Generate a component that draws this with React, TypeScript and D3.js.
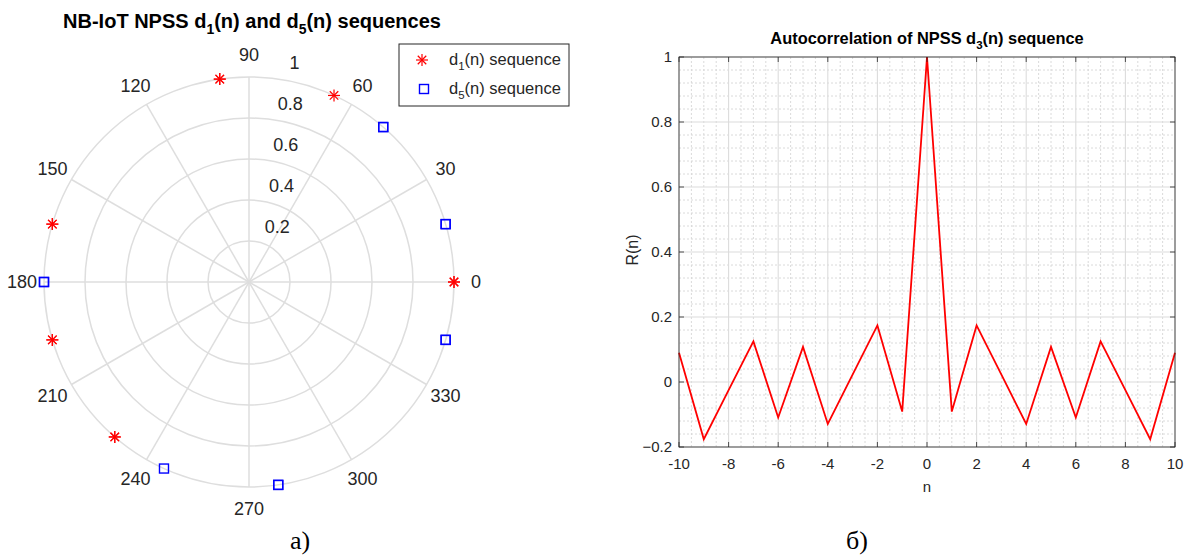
import React from "react";
import * as d3 from "d3";

// Polar chart data (phase angles in degrees, amplitude 1)
const d1Angles = [0, 196.4, 229.1, 98.2, 163.6, 65.5, 163.6, 98.2, 229.1, 196.4, 0];
const d5Angles = [180, 16.4, 49.1, 278.2, 343.6, 245.5, 343.6, 278.2, 49.1, 16.4, 180];
const d1Amp = [1, 1, 1, 1, 1, 1, 1, 1, 1, 1, 1];
const d5Amp = [1, 1, 1, 1, 1, 1, 1, 1, 1, 1, 1];
const rTicks = [0.2, 0.4, 0.6, 0.8, 1];
const thetaTicks = [0, 30, 60, 90, 120, 150, 180, 210, 240, 270, 300, 330];

// Autocorrelation data
const lagN = [-10, -9, -8, -7, -6, -5, -4, -3, -2, -1, 0, 1, 2, 3, 4, 5, 6, 7, 8, 9, 10];
const corrR = [0.09, -0.176, -0.025, 0.125, -0.109, 0.108, -0.129, 0.0225, 0.174, -0.091, 1,
  -0.091, 0.174, 0.0225, -0.129, 0.108, -0.109, 0.125, -0.025, -0.176, 0.09];
const xTicks = [-10, -8, -6, -4, -2, 0, 2, 4, 6, 8, 10];
const yTicks = [-0.2, 0, 0.2, 0.4, 0.6, 0.8, 1];

const SANS = "'Liberation Sans', Arial, Helvetica, sans-serif";
const TXT = "#262626";

function Star({ x, y, s, color }: { x: number; y: number; s: number; color: string }) {
  const d = s * 0.7071;
  return (
    <g stroke={color} strokeWidth={1.2}>
      <line x1={x - s} y1={y} x2={x + s} y2={y} />
      <line x1={x} y1={y - s} x2={x} y2={y + s} />
      <line x1={x - d} y1={y - d} x2={x + d} y2={y + d} />
      <line x1={x - d} y1={y + d} x2={x + d} y2={y - d} />
    </g>
  );
}

function Square({ x, y, s, color }: { x: number; y: number; s: number; color: string }) {
  return <rect x={x - s} y={y - s} width={2 * s} height={2 * s} fill="none" stroke={color} strokeWidth={1.4} />;
}

function PolarChart() {
  const cx = 249, cy = 282, R = 205;
  const r = d3.scaleLinear().domain([0, 1]).range([0, R]);
  const pt = (deg: number, rv: number) => {
    const a = (deg * Math.PI) / 180;
    return [cx + r(rv) * Math.cos(a), cy - r(rv) * Math.sin(a)];
  };
  const gridC = "#dedede";
  const labA = (84 * Math.PI) / 180;
  return (
    <g>
      <text x={252} y={28} textAnchor="middle" fontFamily={SANS} fontWeight="bold" fontSize={20} fill="#000">
        NB-IoT NPSS d<tspan dy={6} fontSize={14}>1</tspan><tspan dy={-6}>(n) and d</tspan>
        <tspan dy={6} fontSize={14}>5</tspan><tspan dy={-6}>(n) sequences</tspan>
      </text>
      {thetaTicks.map((t) => {
        const [x2, y2] = pt(t, 1);
        return <line key={"sp" + t} x1={cx} y1={cy} x2={x2} y2={y2} stroke={gridC} strokeWidth={1.5} />;
      })}
      {rTicks.map((t) => (
        <circle key={"c" + t} cx={cx} cy={cy} r={r(t)} fill="none" stroke={gridC} strokeWidth={1.5} />
      ))}
      {thetaTicks.map((t) => {
        const a = (t * Math.PI) / 180;
        const x = cx + (R + 22) * Math.cos(a);
        const y = cy - (R + 22) * Math.sin(a);
        return (
          <text key={"tl" + t} x={x} y={y} dy="0.35em" textAnchor="middle" fontFamily={SANS} fontSize={18} fill={TXT}>
            {t}
          </text>
        );
      })}
      {rTicks.map((t) => {
        const x = cx + r(t) * Math.cos(labA) + 24;
        const y = cy - r(t) * Math.sin(labA) - 15;
        return (
          <text key={"rl" + t} x={x} y={y} dy="0.35em" textAnchor="middle" fontFamily={SANS} fontSize={18} fill={TXT}>
            {t === 1 ? "1" : t.toFixed(1)}
          </text>
        );
      })}
      {d1Angles.map((a, i) => {
        const [x, y] = pt(a, d1Amp[i]);
        return <Star key={"s" + i} x={x} y={y} s={6} color="#ff0000" />;
      })}
      {d5Angles.map((a, i) => {
        const [x, y] = pt(a, d5Amp[i]);
        return <Square key={"q" + i} x={x} y={y} s={4.5} color="#0000ff" />;
      })}
      <g>
        <rect x={399} y={44} width={170} height={62} fill="#fff" stroke="#262626" strokeWidth={1} />
        <Star x={422} y={60} s={6} color="#ff0000" />
        <text x={449} y={59} dy="0.35em" fontFamily={SANS} fontSize={16.5} fill={TXT}>
          d<tspan dy={5} fontSize={11.5}>1</tspan><tspan dy={-5}>(n) sequence</tspan>
        </text>
        <Square x={424} y={89} s={4.5} color="#0000ff" />
        <text x={449} y={88} dy="0.35em" fontFamily={SANS} fontSize={16.5} fill={TXT}>
          d<tspan dy={5} fontSize={11.5}>5</tspan><tspan dy={-5}>(n) sequence</tspan>
        </text>
      </g>
    </g>
  );
}

function CorrChart() {
  const x0 = 679, x1 = 1175, y0 = 57, y1 = 447;
  const x = d3.scaleLinear().domain([-10, 10]).range([x0, x1]);
  const y = d3.scaleLinear().domain([-0.2, 1]).range([y1, y0]);
  const minorX = d3.range(-10, 10.001, 0.5).filter((v) => Math.abs(v / 2 - Math.round(v / 2)) > 1e-6);
  const minorY = d3.range(-0.2, 1.0001, 0.04).filter((v) => Math.abs(v / 0.2 - Math.round(v / 0.2)) > 1e-6);
  const line = d3
    .line<number>()
    .x((_, i) => x(lagN[i]))
    .y((d) => y(d));
  return (
    <g>
      <text x={927} y={44} textAnchor="middle" fontFamily={SANS} fontWeight="bold" fontSize={16.4} fill="#000">
        Autocorrelation of NPSS d<tspan dy={5} fontSize={11.5}>3</tspan><tspan dy={-5}>(n) sequence</tspan>
      </text>
      <rect x={x0} y={y0} width={x1 - x0} height={y1 - y0} fill="#fff" />
      {minorX.map((v) => (
        <line key={"mx" + v} x1={x(v)} x2={x(v)} y1={y0} y2={y1} stroke="#d6d6d6" strokeWidth={0.9} strokeDasharray="2,2" />
      ))}
      {minorY.map((v) => (
        <line key={"my" + v} x1={x0} x2={x1} y1={y(v)} y2={y(v)} stroke="#d6d6d6" strokeWidth={0.9} strokeDasharray="2,2" />
      ))}
      {xTicks.map((v) => (
        <line key={"gx" + v} x1={x(v)} x2={x(v)} y1={y0} y2={y1} stroke="#dcdcdc" strokeWidth={1.1} />
      ))}
      {yTicks.map((v) => (
        <line key={"gy" + v} x1={x0} x2={x1} y1={y(v)} y2={y(v)} stroke="#dcdcdc" strokeWidth={1.1} />
      ))}
      <path d={line(corrR) || ""} fill="none" stroke="#ff0000" strokeWidth={1.8} />
      <rect x={x0} y={y0} width={x1 - x0} height={y1 - y0} fill="none" stroke="#262626" strokeWidth={0.8} />
      {xTicks.map((v) => (
        <g key={"tx" + v}>
          <line x1={x(v)} x2={x(v)} y1={y1} y2={y1 - 5} stroke="#262626" strokeWidth={0.8} />
          <line x1={x(v)} x2={x(v)} y1={y0} y2={y0 + 5} stroke="#262626" strokeWidth={0.8} />
          <text x={x(v)} y={464} dy="0.35em" textAnchor="middle" fontFamily={SANS} fontSize={15} fill={TXT}>
            {v}
          </text>
        </g>
      ))}
      {yTicks.map((v) => (
        <g key={"ty" + v}>
          <line x1={x0} x2={x0 + 5} y1={y(v)} y2={y(v)} stroke="#262626" strokeWidth={0.8} />
          <line x1={x1} x2={x1 - 5} y1={y(v)} y2={y(v)} stroke="#262626" strokeWidth={0.8} />
          <text x={672} y={y(v)} dy="0.35em" textAnchor="end" fontFamily={SANS} fontSize={15} fill={TXT}>
            {Math.abs(v) < 1e-9 ? "0" : v === 1 ? "1" : d3.format(".1f")(v)}
          </text>
        </g>
      ))}
      <text x={927} y={487} dy="0.35em" textAnchor="middle" fontFamily={SANS} fontSize={15} fill={TXT}>
        n
      </text>
      <text transform={`translate(632,250) rotate(-90)`} textAnchor="middle" dy="0.35em" fontFamily={SANS} fontSize={16} fill={TXT}>
        R(n)
      </text>
    </g>
  );
}

export default function App() {
  return (
    <svg width={1188} height={557} style={{ position: "absolute", left: 0, top: 0, background: "#fff" }}>
      <rect width={1188} height={557} fill="#fff" />
      <PolarChart />
      <CorrChart />
      <text x={300} y={549} textAnchor="middle" fontFamily="'Liberation Serif', 'Times New Roman', serif" fontSize={26} fill="#000">
        а)
      </text>
      <text x={857} y={549} textAnchor="middle" fontFamily="'Liberation Serif', 'Times New Roman', serif" fontSize={26} fill="#000">
        б)
      </text>
    </svg>
  );
}
